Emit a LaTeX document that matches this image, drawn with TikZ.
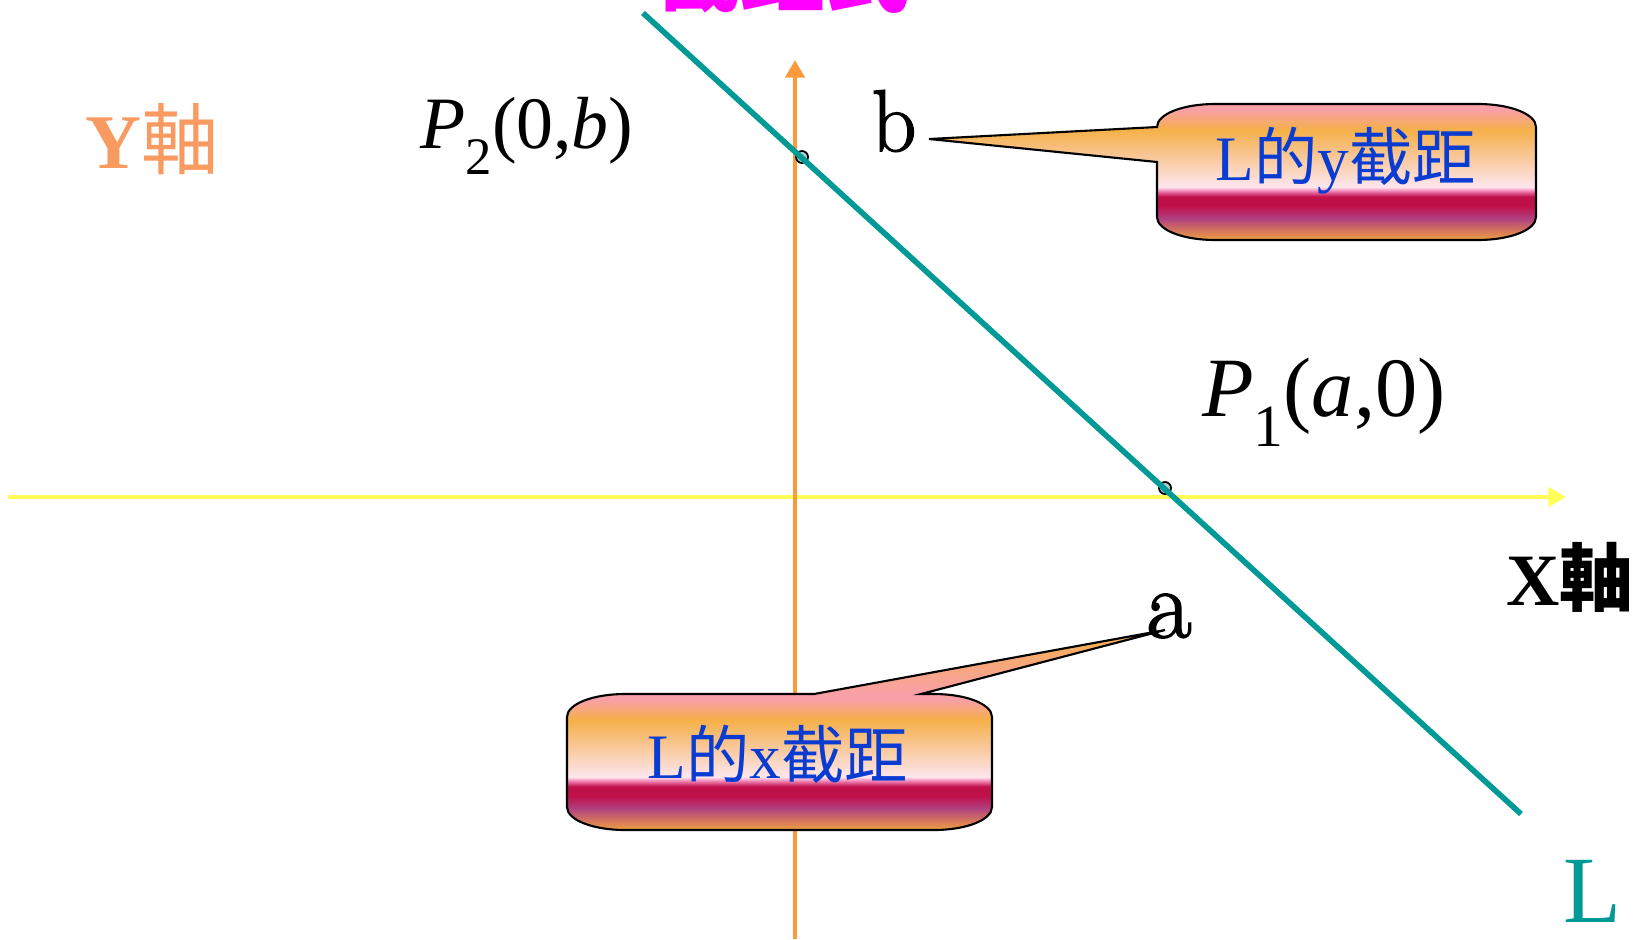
\documentclass[tikz,border=0pt]{standalone}
\usepackage{fontspec}
\usepackage{xcolor}
\usepackage{tikz}
\usetikzlibrary{arrows.meta}
\newfontfamily\cjk{Noto Sans CJK TC}
\newfontfamily\timesfont{Liberation Serif}
\newfontfamily\abfont{Latin Modern Roman}[FakeBold=1.6]
\definecolor{lineteal}{HTML}{009A96}
\definecolor{axisorange}{HTML}{FA9A3A}
\definecolor{axisyellow}{HTML}{FFFF55}
\definecolor{ylabelorange}{HTML}{F99A60}
\definecolor{tagblue}{HTML}{0A3CD2}
\definecolor{titlemagenta}{HTML}{FF00FF}
\definecolor{dotfill}{HTML}{A8D0D4}
\definecolor{tagpink}{HTML}{F8A0A8}
\definecolor{tagorange}{HTML}{F5B048}
\definecolor{tagpeach}{HTML}{F9C89A}
\definecolor{tagwhite}{HTML}{FDE6EE}
\definecolor{taghot}{HTML}{F080B0}
\definecolor{tagcrimson}{HTML}{C0104A}
\definecolor{tagpurple}{HTML}{B04080}
\definecolor{tagbottom}{HTML}{F0A040}
\pgfdeclareverticalshading{tagshade}{100bp}{color(0bp)=(tagbottom); color(25bp)=(tagbottom);
  color(33bp)=(tagpurple); color(37.5bp)=(tagcrimson); color(41bp)=(tagcrimson); color(43bp)=(taghot);
  color(44.5bp)=(tagwhite); color(55.5bp)=(tagpeach); color(65.5bp)=(tagorange); color(73bp)=(tagpink);
  color(75bp)=(tagpink); color(100bp)=(tagpink)}
\tikzset{
  hitdot/.style={circle, draw=black, fill=dotfill, line width=0.5pt, minimum size=0.12cm, inner sep=0pt},
  tagtext/.style={text=tagblue, font=\timesfont\fontsize{18}{20}\selectfont},
  tagline/.style={draw=black, line width=0.6pt},
  axisline/.style={line width=1.4pt, -{Triangle[length=5pt, width=5.4pt]}}
}

\begin{document}
\begin{tikzpicture}[x=0.01cm, y=-0.01cm]
      \useasboundingbox (0,0) rectangle (1637,939);
      % title, cut by the page edge
      \node[anchor=base, inner sep=0pt, text=titlemagenta, font=\cjk\bfseries\fontsize{24}{26}\selectfont] (title) at (783,5) {截距式};
      % axes
      \coordinate (xstart) at (8,497);
      \coordinate (xend) at (1566,497);
      \coordinate (ystart) at (795,939);
      \coordinate (yend) at (795,60);
      \draw[axisline, axisyellow] (xstart) -- (xend);
      \draw[axisline, axisorange] (ystart) -- (yend);
      % the line L and its intercepts
      \coordinate (Ltop) at (643,13);
      \coordinate (Lbot) at (1521,814);
      \node[hitdot] (P2dot) at (802,157) {};
      \node[hitdot] (P1dot) at (1165,488) {};
      \draw[lineteal, line width=1.6pt] (Ltop) -- (Lbot);
      % labels
      \node[text=ylabelorange, font=\fontsize{22}{24}\selectfont] (ylab) at (152,139) {{\timesfont\bfseries Y}{\cjk 軸}};
      \node[anchor=east, inner sep=0pt, font=\fontsize{21}{23}\selectfont\bfseries] (xlab) at (1634,577) {{\timesfont X}{\cjk 軸}};
      \node[font=\timesfont\fontsize{21}{23}\selectfont] (P2lab) at (527,136) {\textit{P}\raisebox{-0.35em}{\fontsize{15}{15}\selectfont 2}(0,\textit{b})};
      \node[font=\timesfont\fontsize{24}{26}\selectfont] (P1lab) at (1324,402) {\textit{P}\raisebox{-0.35em}{\fontsize{17}{17}\selectfont 1}(\textit{a},0)};
      \node[font=\abfont\fontsize{25}{27}\selectfont] (blab) at (894,121) {b};
      \node[font=\abfont\fontsize{28}{30}\selectfont] (alab) at (1169,616) {a};
      \node[text=lineteal, font=\timesfont\fontsize{27}{29}\selectfont] (Llab) at (1592,891) {L};
      \coordinate (btip) at (929,139);
      \coordinate (atip) at (1165,630);
      % y-intercept callout
      \shadedraw[shading=tagshade, tagline] (1157,127) -- (btip) -- (1157,162) -- (1157,217)
        .. controls (1157,230) and (1183,240) .. (1215,240) -- (1478,240)
        .. controls (1510,240) and (1536,230) .. (1536,217) -- (1536,127)
        .. controls (1536,114) and (1510,104) .. (1478,104) -- (1215,104)
        .. controls (1183,104) and (1157,114) .. (1157,127) -- cycle;
      \node[tagtext] (ytag) at (1346,161) {L{\cjk 的}y{\cjk 截距}};
      % x-intercept callout
      \shade[shading=tagshade] (567,717) .. controls (567,704) and (593,694) .. (625,694) -- (934,694)
        .. controls (966,694) and (992,704) .. (992,717) -- (992,807)
        .. controls (992,820) and (966,830) .. (934,830) -- (625,830)
        .. controls (593,830) and (567,820) .. (567,807) -- cycle;
      \shade[top color=tagorange, bottom color=tagpink] (814,694) -- (atip) -- (921,694) -- cycle;
      \draw[tagline] (567,717) .. controls (567,704) and (593,694) .. (625,694) -- (814,694) -- (atip)
        -- (921,694) -- (934,694) .. controls (966,694) and (992,704) .. (992,717) -- (992,807)
        .. controls (992,820) and (966,830) .. (934,830) -- (625,830)
        .. controls (593,830) and (567,820) .. (567,807) -- cycle;
      \node[tagtext] (xtag) at (778,754) {L{\cjk 的}x{\cjk 截距}};
    \end{tikzpicture}
\end{document}
